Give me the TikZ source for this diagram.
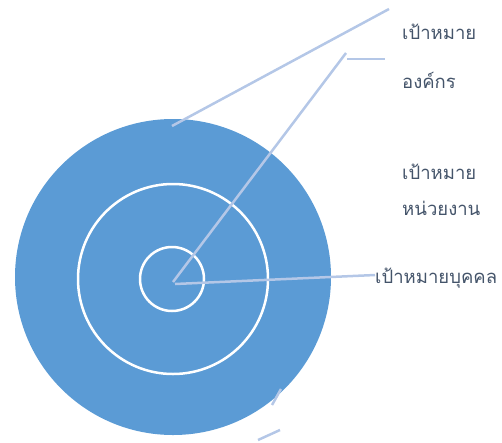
\documentclass[tikz,border=0pt]{standalone}
\usepackage{fontspec}
\newfontfamily\thaifont[Script=Thai]{Loma}
\definecolor{fillblue}{HTML}{5B9BD5}
\definecolor{leader}{HTML}{B4C7E7}
\definecolor{txt}{HTML}{44546A}
\begin{document}
\begin{tikzpicture}[x=1pt,y=-1pt,
  ring/.style={draw=white,line width=2.5pt},
  leaderline/.style={draw=leader,line width=2.5pt},
  lbl/.style={font=\thaifont\fontsize{18.5}{22}\selectfont,text=txt,inner sep=0pt,anchor=west}]
\useasboundingbox (0,0) rectangle (502,442);
\fill[fillblue] (173,277) circle[radius=158];
\draw[ring] (173,279) circle[radius=95];
\draw[ring] (172,279) circle[radius=32];
\coordinate (c0) at (173,282);
\coordinate (a1) at (172,126);
\coordinate (a2) at (389,9);
\coordinate (b2) at (346,53);
\coordinate (b3) at (347,59);
\coordinate (b4) at (385,59);
\coordinate (d1) at (175,284);
\coordinate (d2) at (375,275);
\coordinate (e1) at (281,389);
\coordinate (e2) at (272,405);
\coordinate (f1) at (258,440);
\coordinate (f2) at (280,430);
\draw[leaderline] (a1) -- (a2);
\draw[leaderline] (c0) -- (b2);
\draw[leaderline] (b3) -- (b4);
\draw[leaderline] (d1) -- (d2);
\draw[leaderline] (e1) -- (e2);
\draw[leaderline] (f1) -- (f2);
\node[lbl] (t1) at (402,32) {เป้าหมาย};
\node[lbl] (t2) at (402,80) {องค์กร};
\node[lbl] (t3) at (402,172) {เป้าหมาย};
\node[lbl] (t4) at (402,208) {หน่วยงาน};
\node[lbl] (t5) at (375,278) {เป้าหมายบุคคล};
\end{tikzpicture}
\end{document}
